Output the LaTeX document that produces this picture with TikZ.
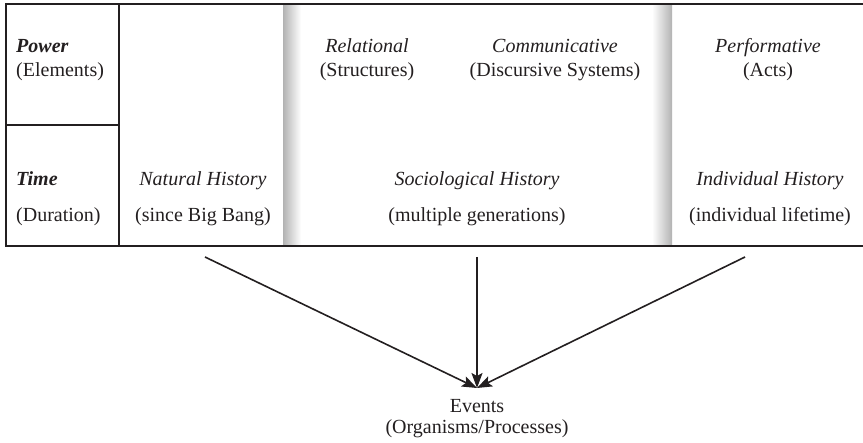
\documentclass[tikz,border=0pt]{standalone}
\usepackage{fontspec}
\setmainfont{Liberation Serif}
\usetikzlibrary{arrows.meta}
\definecolor{ink}{HTML}{231F20}
\begin{document}
\begin{tikzpicture}[x=1pt,y=-1pt,
  txt/.style={font=\fontsize{20}{24}\selectfont, inner sep=0pt, anchor=base, text=ink},
  lefttxt/.style={txt, anchor=base west},
  rule/.style={draw=ink, line width=2pt},
  link/.style={draw=ink, line width=1.6pt, -{Stealth[length=15pt,width=11pt,inset=3pt]}},
]
\useasboundingbox (0,0) rectangle (863,443);

% folded edges of the middle column
\shade[left color=black!30, right color=white] (283,5) rectangle (301,245);
\shade[left color=white, right color=black!30] (652,5) rectangle (672,245);

% table frame
\draw[rule] (863,4) -- (6,4) -- (6,246) -- (863,246);
\draw[rule] (119,4) -- (119,246);
\draw[rule] (6,125) -- (119,125);

% row headers
\node[lefttxt] (power) at (16,53) {\bfseries\itshape Power};
\node[lefttxt] (elements) at (16,77) {(Elements)};
\node[lefttxt] (time) at (16,186) {\bfseries\itshape Time};
\node[lefttxt] (duration) at (16,222) {(Duration)};

% power row
\node[txt] (relational) at (367,53) {\itshape Relational};
\node[txt] (structures) at (367,77) {(Structures)};
\node[txt] (communicative) at (555,53) {\itshape Communicative};
\node[txt] (discursive) at (555,77) {(Discursive Systems)};
\node[txt] (performative) at (768,53) {\itshape Performative};
\node[txt] (acts) at (768,77) {(Acts)};

% time row
\node[txt] (natural) at (203,186) {\itshape Natural History};
\node[txt] (bigbang) at (203,222) {(since Big Bang)};
\node[txt] (sociological) at (477,186) {\itshape Sociological History};
\node[txt] (generations) at (477,222) {(multiple generations)};
\node[txt] (individual) at (770,186) {\itshape Individual History};
\node[txt] (lifetime) at (770,222) {(individual lifetime)};

% outcome
\node[txt] (events) at (477,413) {Events};
\node[txt] (organisms) at (477,434) {(Organisms/Processes)};

% connectors
\coordinate (meet) at (477,388);
\coordinate (fromnatural) at (205,257);
\coordinate (fromsocial) at (477,257);
\coordinate (fromindividual) at (745,257);
\draw[link] (fromnatural) -- (meet);
\draw[link] (fromsocial) -- (meet);
\draw[link] (fromindividual) -- (meet);
\end{tikzpicture}
\end{document}
